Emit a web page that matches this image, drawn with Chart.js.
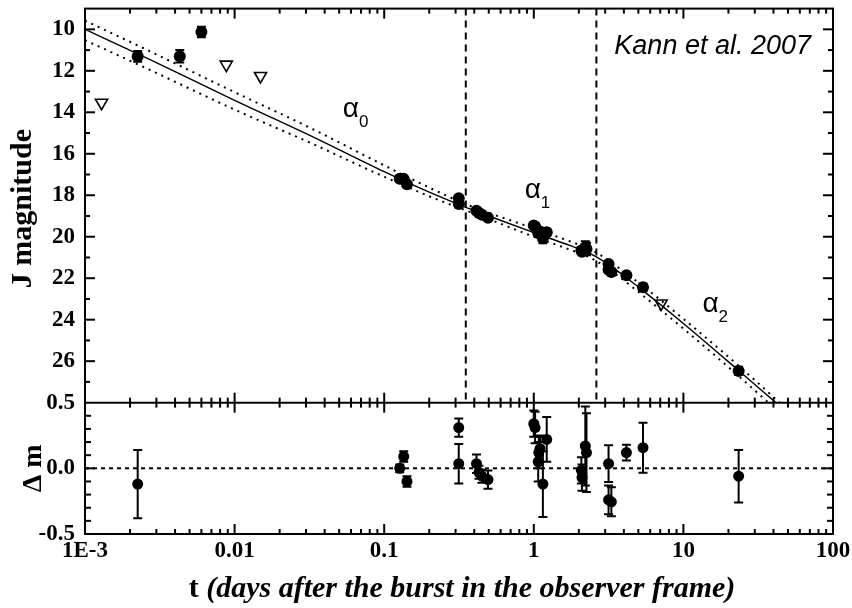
<!DOCTYPE html>
<html>
<head>
<meta charset="utf-8">
<script src="https://cdn.jsdelivr.net/npm/chart.js@4.4.1/dist/chart.umd.min.js"></script>
<style>
	html, body { margin: 0; padding: 0; background: #fff; }
</style>
</head>
<body>
<canvas id="lc" width="852" height="608"></canvas>
<script>
const SERIF = "'Liberation Serif', 'Times New Roman', serif";
const SANS = "'Liberation Sans', Arial, sans-serif";

// broken power-law fit (J mag vs days)
const fitT   = [0.001, 0.0027, 0.01, 0.0318, 0.1, 0.2, 0.351, 0.5, 1.0, 1.74, 2.2, 2.62, 3.2, 4.16, 5.37, 10, 23.4, 41.5];
const fitMag = [10.0, 11.45, 13.42, 15.11, 16.86, 17.85, 18.58, 19.0, 19.8, 20.42, 20.7, 20.97, 21.37, 21.98, 22.6, 24.18, 26.45, 28.0];

// 1-sigma envelope of the fit
const upT   = [0.001, 0.0027, 0.01, 0.0318, 0.1, 0.2, 0.351, 0.5, 1.0, 1.74, 2.2, 2.62, 3.2, 4.16, 5.37, 10, 23.4, 44];
const upMag = [9.58, 11.05, 13.03, 14.74, 16.56, 17.63, 18.43, 18.85, 19.6, 20.22, 20.5, 20.77, 21.17, 21.78, 22.38, 23.96, 26.22, 28.0];
const loT   = [0.001, 0.0027, 0.01, 0.0318, 0.1, 0.2, 0.351, 0.5, 1.0, 1.74, 2.2, 2.62, 3.2, 4.16, 5.37, 10, 23.4, 37];
const loMag = [10.52, 11.95, 13.87, 15.46, 17.11, 18.05, 18.73, 19.15, 20.0, 20.62, 20.9, 21.17, 21.59, 22.2, 22.84, 24.43, 26.72, 28.0];

// break times
const breakT = [0.351, 2.62];

// detections used in the fit, with residuals (model - data)
const detT   = [0.00225, 0.127, 0.135, 0.142, 0.315, 0.315, 0.414, 0.43, 0.45, 0.494, 1.0, 1.02, 1.07, 1.08, 1.1, 1.15, 1.22, 2.08, 2.1, 2.21, 2.25, 3.16, 3.16, 3.3, 4.16, 5.37, 23.4];
const detMag = [11.3, 17.2, 17.21, 17.47, 18.14, 18.42, 18.75, 18.85, 18.94, 19.08, 19.46, 19.51, 19.82, 19.76, 19.75, 20.07, 19.78, 20.66, 20.72, 20.52, 20.59, 21.31, 21.59, 21.7, 21.86, 22.44, 26.47];
const detErr = [0.26, 0.03, 0.04, 0.04, 0.07, 0.15, 0.07, 0.05, 0.05, 0.07, 0.1, 0.12, 0.15, 0.12, 0.1, 0.25, 0.17, 0.1, 0.1, 0.3, 0.3, 0.14, 0.11, 0.11, 0.06, 0.19, 0.2];
const detRes = [-0.12, 0.0, 0.09, -0.1, 0.31, 0.035, 0.035, -0.03, -0.06, -0.086, 0.34, 0.31, 0.05, 0.12, 0.15, -0.12, 0.22, -0.015, -0.07, 0.17, 0.12, 0.035, -0.24, -0.255, 0.12, 0.157, -0.06];

// early detections left out of the fit
const earlyT   = [0.0043, 0.006];
const earlyMag = [11.3, 10.13];
const earlyErr = [0.3, 0.25];

// upper limits
const limT   = [0.00129, 0.0088, 0.0149, 7.1];
const limMag = [13.54, 11.7, 12.25, 23.22];

// axis ticks
const xTicks  = [0.001, 0.01, 0.1, 1, 10, 100];
const xLabels = ['1E-3', '0.01', '0.1', '1', '10', '100'];
const magTicks  = [10, 12, 14, 16, 18, 20, 22, 24, 26];
const resTicks  = [-0.5, 0, 0.5];
const resLabels = ['-0.5', '0.0', '0.5'];

// segment labels: [subscript, t, mag]
const alphaLabels = [['0', 0.0529, 14.24], ['1', 0.869, 18.14], ['2', 13.4, 23.64]];

const pts = (xs, ys) => xs.map((x, i) => ({x: x, y: ys[i]}));

const errorBars = {
	id: 'errorBars',
	afterDatasetsDraw(chart) {
		const ctx = chart.ctx;
		chart.data.datasets.forEach((ds, i) => {
			if (!ds.errs) return;
			const meta = chart.getDatasetMeta(i);
			const xs = chart.scales[meta.xAxisID];
			const ys = chart.scales[meta.yAxisID];
			ctx.save();
			ctx.strokeStyle = '#000';
			ctx.lineWidth = 2;
			ds.data.forEach((p, j) => {
				const x = xs.getPixelForValue(p.x);
				const y0 = ys.getPixelForValue(p.y - ds.errs[j]);
				const y1 = ys.getPixelForValue(p.y + ds.errs[j]);
				ctx.beginPath();
				ctx.moveTo(x, y0); ctx.lineTo(x, y1);
				ctx.moveTo(x - 4.5, y0); ctx.lineTo(x + 4.5, y0);
				ctx.moveTo(x - 4.5, y1); ctx.lineTo(x + 4.5, y1);
				ctx.stroke();
			});
			ctx.restore();
		});
	}
};

// frame, inward tick marks and the free text
const frame = {
	id: 'frame',
	afterDraw(chart) {
		const {ctx, chartArea: a, scales} = chart;
		const xs = scales.x, ym = scales.yMag, yr = scales.yRes;
		const mid = ym.bottom;
		ctx.save();
		ctx.strokeStyle = '#000';
		ctx.fillStyle = '#000';
		ctx.lineWidth = 2;
		ctx.strokeRect(a.left, a.top, a.right - a.left, a.bottom - a.top);

		const seg = (x0, y0, x1, y1) => { ctx.beginPath(); ctx.moveTo(x0, y0); ctx.lineTo(x1, y1); ctx.stroke(); };
		seg(a.left, mid, a.right, mid);

		// x ticks: decades long, 2..9 short
		for (let d = -3; d <= 2; d++) {
			for (let m = 1; m <= 9; m++) {
				if (d === 2 && m > 1) break;
				const v = m * Math.pow(10, d);
				const x = xs.getPixelForValue(v);
				const len = (m === 1) ? 10 : 5;
				seg(x, a.top, x, a.top + len);
				seg(x, mid - len, x, mid + len);
				seg(x, a.bottom, x, a.bottom - len);
			}
		}
		// magnitude ticks
		for (let v = 10; v <= 27; v++) {
			const y = ym.getPixelForValue(v);
			const len = (v % 2 === 0) ? 10 : 5;
			seg(a.left, y, a.left + len, y);
			seg(a.right, y, a.right - len, y);
		}
		// residual ticks
		[-0.4, -0.3, -0.2, -0.1, 0, 0.1, 0.2, 0.3, 0.4].forEach(v => {
			const y = yr.getPixelForValue(v);
			const len = (v === 0) ? 10 : 6;
			seg(a.left, y, a.left + len, y);
			seg(a.right, y, a.right - len, y);
		});

		// segment labels
		ctx.textAlign = 'left';
		ctx.textBaseline = 'alphabetic';
		alphaLabels.forEach(([sub, t, mag]) => {
			const px = xs.getPixelForValue(t), py = ym.getPixelForValue(mag);
			ctx.font = '28px ' + SANS;
			ctx.fillText('\u03b1', px, py);
			const w = ctx.measureText('\u03b1').width;
			ctx.font = '17px ' + SANS;
			ctx.fillText(sub, px + w, py + 10);
		});

		ctx.font = 'italic 27px ' + SANS;
		ctx.textAlign = 'right';
		ctx.fillText('Kann et al. 2007', a.right - 22, a.top + 45);

		// axis titles
		ctx.textAlign = 'center';
		ctx.save();
		ctx.translate(31, (ym.top + ym.bottom) / 2 + 3);
		ctx.rotate(-Math.PI / 2);
		ctx.font = 'bold 30px ' + SERIF;
		ctx.fillText('J magnitude', 0, 0);
		ctx.restore();

		ctx.save();
		ctx.translate(40.5, (yr.top + yr.bottom) / 2);
		ctx.rotate(-Math.PI / 2);
		ctx.font = 'bold 28px ' + SERIF;
		ctx.fillText('\u0394 m', 0, 0);
		ctx.restore();

		ctx.textAlign = 'left';
		ctx.font = 'bold 30px ' + SERIF;
		const w1 = ctx.measureText('t ').width;
		const rest = '(days after the burst in the observer frame)';
		ctx.font = 'italic bold 30px ' + SERIF;
		const w2 = ctx.measureText(rest).width;
		const x0 = (a.left + a.right) / 2 + 3 - (w1 + w2) / 2;
		ctx.font = 'bold 30px ' + SERIF;
		ctx.fillText('t', x0, 597);
		ctx.font = 'italic bold 30px ' + SERIF;
		ctx.fillText(rest, x0 + w1, 597);
		ctx.restore();
	}
};

const lineDs = (data, extra) => Object.assign({
	data: data,
	yAxisID: 'yMag',
	showLine: true,
	pointRadius: 0,
	borderColor: '#000',
	backgroundColor: '#000',
	fill: false,
}, extra);

const datasets = [
	lineDs(pts(fitT, fitMag), {borderWidth: 1.4, cubicInterpolationMode: 'monotone'}),
	lineDs(pts(upT, upMag), {borderWidth: 2, borderDash: [2, 5], cubicInterpolationMode: 'monotone'}),
	lineDs(pts(loT, loMag), {borderWidth: 2, borderDash: [2, 5], cubicInterpolationMode: 'monotone'}),
	lineDs([{x: breakT[0], y: 9}, {x: breakT[0], y: 28}], {borderWidth: 2, borderDash: [7, 5]}),
	lineDs([{x: breakT[1], y: 9}, {x: breakT[1], y: 28}], {borderWidth: 2, borderDash: [7, 5]}),
	{
		data: pts(detT, detMag), errs: detErr, yAxisID: 'yMag',
		pointStyle: 'circle', pointRadius: 6, pointBorderWidth: 0,
		backgroundColor: '#000', borderColor: '#000',
	},
	{
		data: pts(earlyT, earlyMag), errs: earlyErr, yAxisID: 'yMag',
		pointStyle: 'circle', pointRadius: 6, pointBorderWidth: 0,
		backgroundColor: '#000', borderColor: '#000',
	},
	{
		data: pts(limT, limMag), yAxisID: 'yMag',
		pointStyle: 'triangle', pointRotation: 180, pointRadius: 7, pointBorderWidth: 1.6,
		backgroundColor: '#fff', borderColor: '#000',
	},
	{
		data: pts(detT, detRes), errs: detErr, yAxisID: 'yRes',
		pointStyle: 'circle', pointRadius: 5.5, pointBorderWidth: 0,
		backgroundColor: '#000', borderColor: '#000',
	},
	{
		data: [{x: 0.001, y: 0}, {x: 100, y: 0}], yAxisID: 'yRes',
		showLine: true, pointRadius: 0, borderColor: '#000', borderWidth: 2, borderDash: [4, 4],
	},
];

const tickFont = {family: SERIF, size: 23, weight: 'bold'};

const chartOptions = {
	responsive: false,
	animation: false,
	events: [],
	layout: {padding: {left: 0, right: 19, top: 8, bottom: 0}},
	plugins: {
		legend: {display: false},
		tooltip: {enabled: false},
	},
	scales: {
		x: {
			type: 'logarithmic',
			position: 'bottom',
			min: 0.001,
			max: 100,
			afterBuildTicks: s => { s.ticks = xTicks.map(v => ({value: v, major: true})); },
			afterFit: s => { s.height = 74; s.paddingLeft = 0; s.paddingRight = 0; },
			grid: {display: false, drawTicks: false},
			border: {display: false},
			ticks: {
				autoSkip: false, maxRotation: 0, padding: 3, color: '#000', font: tickFont,
				callback: (v, i) => xLabels[i],
			},
		},
		yRes: {
			type: 'linear',
			position: 'left',
			stack: 'panels',
			stackWeight: 1,
			min: -0.5,
			max: 0.5,
			afterBuildTicks: s => { s.ticks = resTicks.map(v => ({value: v})); },
			afterFit: s => { s.width = 85; s.paddingTop = 0; s.paddingBottom = 0; },
			grid: {display: false, drawTicks: false},
			border: {display: false},
			ticks: {
				autoSkip: false, padding: 10, color: '#000', font: tickFont,
				callback: (v, i) => resLabels[i],
			},
		},
		yMag: {
			type: 'linear',
			position: 'left',
			stack: 'panels',
			stackWeight: 3,
			min: 9,
			max: 28,
			reverse: true,
			afterBuildTicks: s => { s.ticks = magTicks.map(v => ({value: v})); },
			afterFit: s => { s.width = 85; s.paddingTop = 0; s.paddingBottom = 0; },
			grid: {display: false, drawTicks: false},
			border: {display: false},
			ticks: {
				autoSkip: false, padding: 10, color: '#000', font: tickFont,
				callback: v => String(v),
			},
		},
	},
};

const ctx = document.getElementById('lc');
const lightCurve = new Chart(ctx, {
	type: 'scatter',
	data: {datasets: datasets},
	options: chartOptions,
	plugins: [errorBars, frame],
});
</script>
</body>
</html>
